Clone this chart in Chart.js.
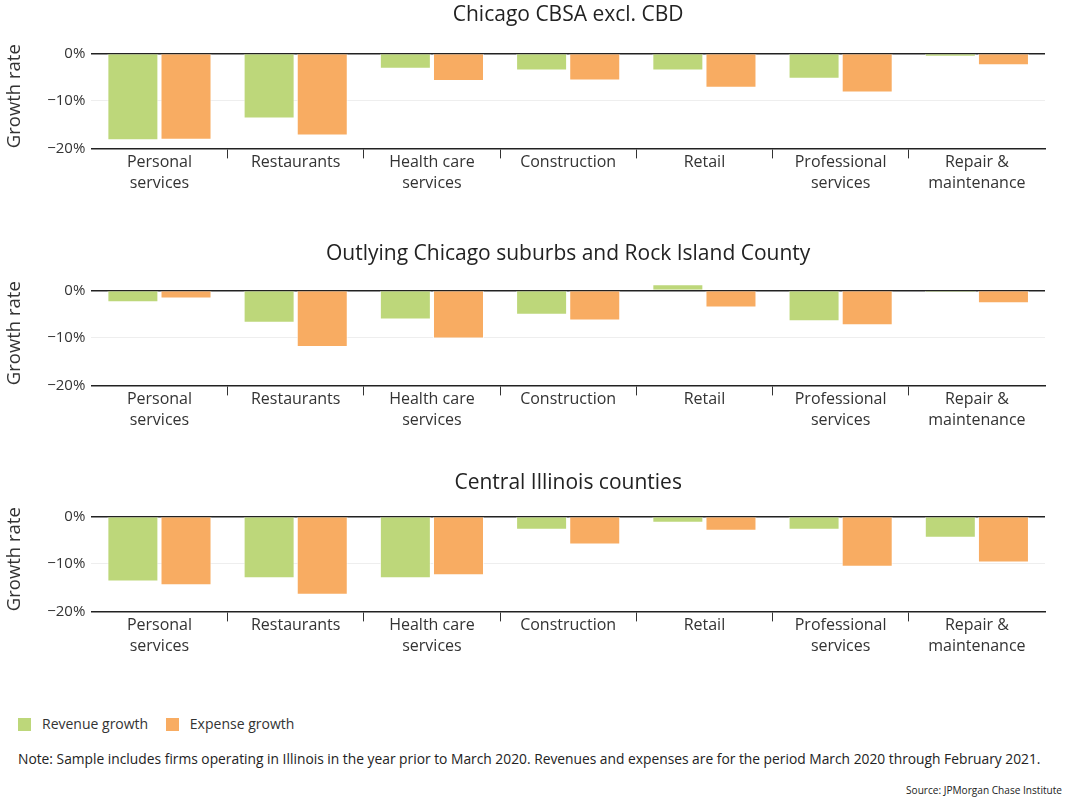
<!DOCTYPE html>
<html>
<head>
<meta charset="utf-8">
<script src="https://cdn.jsdelivr.net/npm/chart.js@4.4.0/dist/chart.umd.min.js"></script>
<style>
  body { margin: 0; background: #fff; font-family: "Open Sans", sans-serif; color: #333; }
  #wrap { position: relative; width: 1071px; height: 801px; }
  .panel { position: absolute; left: 0; width: 1071px; height: 200px; }
  #legend { position: absolute; left: 18px; top: 714px; font-size: 14px; color: #333; }
  #legend span.box { display: inline-block; width: 13px; height: 13px; vertical-align: -2px; margin-right: 11px; }
  #legend span.item { margin-right: 14px; }
  #note { position: absolute; left: 18px; top: 749px; font-size: 13.8px; color: #222; white-space: nowrap; }
  #source { position: absolute; right: 9px; top: 783px; font-size: 10.1px; color: #222; }
</style>
</head>
<body>
<div id="wrap">
  <div class="panel" style="top:0px"><canvas id="c1"></canvas></div>
  <div class="panel" style="top:237px"><canvas id="c2"></canvas></div>
  <div class="panel" style="top:463px"><canvas id="c3"></canvas></div>
  <div id="legend">
    <span class="item"><span class="box" style="background:#bdd77a"></span>Revenue growth</span>
    <span class="item"><span class="box" style="background:#f8ac62"></span>Expense growth</span>
  </div>
  <div id="note">Note: Sample includes firms operating in Illinois in the year prior to March 2020. Revenues and expenses are for the period March 2020 through February 2021.</div>
  <div id="source">Source: JPMorgan Chase Institute</div>
</div>
<script>
// industries on the x axis
var categories = [
    ['Personal', 'services'],
    'Restaurants',
    ['Health care', 'services'],
    'Construction',
    'Retail',
    ['Professional', 'services'],
    ['Repair &', 'maintenance']
];
var yTicks = [-20, -10, 0];

// growth rates in percent
var titles = [
    'Chicago CBSA excl. CBD',
    'Outlying Chicago suburbs and Rock Island County',
    'Central Illinois counties'
];
var revenueCbsa = [-18.3, -13.7, -3.2, -3.6, -3.6, -5.3, -0.7];
var expenseCbsa = [-18.2, -17.3, -5.8, -5.7, -7.2, -8.2, -2.5];
var revenueOutlying = [-2.5, -6.8, -6.1, -5.1, 1.3, -6.5, -0.4];
var expenseOutlying = [-1.7, -11.9, -10.1, -6.3, -3.6, -7.3, -2.7];
var revenueCentral = [-13.7, -13.0, -13.0, -2.8, -1.3, -2.8, -4.5];
var expenseCentral = [-14.5, -16.5, -12.4, -5.9, -3.0, -10.6, -9.7];

var green = '#bdd77a';
var orange = '#f8ac62';
var fontName = '"Open Sans", sans-serif';

// panel title centred over the plot area, not the whole canvas
var panelTitle = {
    id: 'panelTitle',
    afterDraw: function (chart, args, opts) {
        var ctx = chart.ctx;
        var area = chart.chartArea;
        ctx.save();
        ctx.font = '21px ' + fontName;
        ctx.fillStyle = '#222';
        ctx.textAlign = 'center';
        ctx.textBaseline = 'middle';
        ctx.fillText(opts.text, (area.left + area.right) / 2, opts.y);
        ctx.restore();
    }
};

function makeChart(id, title, titleY, revenue, expense) {
    var ctx = document.getElementById(id).getContext('2d');
    return new Chart(ctx, {
        type: 'bar',
        plugins: [panelTitle],
        data: {
            labels: categories,
            datasets: [{
                label: 'Revenue growth',
                data: revenue,
                backgroundColor: green,
                borderColor: 'rgba(255,255,255,0.7)',
                borderWidth: 1,
                barPercentage: 0.96,
                categoryPercentage: 0.78
            }, {
                label: 'Expense growth',
                data: expense,
                backgroundColor: orange,
                borderColor: 'rgba(255,255,255,0.7)',
                borderWidth: 1,
                barPercentage: 0.96,
                categoryPercentage: 0.78
            }]
        },
        options: {
            responsive: true,
            maintainAspectRatio: false,
            animation: false,
            layout: { padding: { left: 4, right: 26, top: 44, bottom: 12 } },
            plugins: {
                legend: { display: false },
                tooltip: { enabled: false },
                title: { display: false },
                panelTitle: { text: title, y: titleY }
            },
            scales: {
                x: {
                    border: { display: true, color: '#222', width: 1.5 },
                    grid: {
                        offset: true,
                        drawOnChartArea: false,
                        tickLength: 10,
                        color: function (c) { return c.index > 0 ? '#333' : 'transparent'; }
                    },
                    ticks: {
                        color: '#333',
                        font: { family: fontName, size: 16, lineHeight: 1.3 },
                        padding: -6,
                        maxRotation: 0,
                        autoSkip: false
                    }
                },
                y: {
                    min: -20,
                    max: 2,
                    afterBuildTicks: function (scale) {
                        scale.ticks = yTicks.map(function (v) { return { value: v }; });
                    },
                    border: { display: false },
                    grid: {
                        drawTicks: false,
                        color: function (c) { return c.tick && c.tick.value === 0 ? '#222' : '#eeeeee'; },
                        lineWidth: function (c) { return c.tick && c.tick.value === 0 ? 1.5 : 1; }
                    },
                    ticks: {
                        color: '#333',
                        font: { family: fontName, size: 15 },
                        padding: 6,
                        callback: function (v) { return (v < 0 ? '\u2212' + (-v) : v) + '%'; }
                    },
                    title: {
                        display: true,
                        text: 'Growth rate',
                        color: '#333',
                        font: { family: fontName, size: 18.5 },
                        padding: { top: 0, bottom: 15 }
                    }
                }
            }
        }
    });
}

makeChart('c1', titles[0], 15, revenueCbsa, expenseCbsa);
makeChart('c2', titles[1], 17, revenueOutlying, expenseOutlying);
makeChart('c3', titles[2], 20, revenueCentral, expenseCentral);
</script>
</body>
</html>
